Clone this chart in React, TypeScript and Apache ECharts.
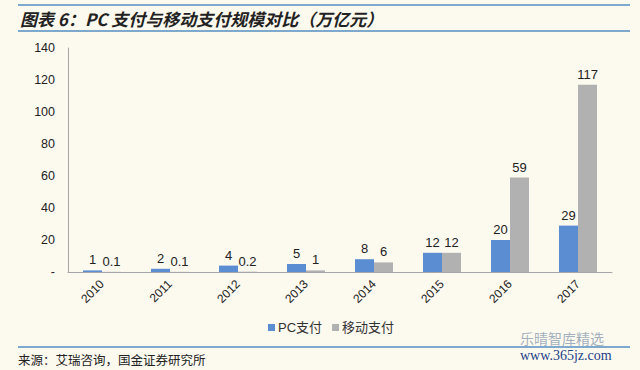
import React, { useEffect, useRef } from "react";
import * as echarts from "echarts";

const categories = ["2010", "2011", "2012", "2013", "2014", "2015", "2016", "2017"];
const pcPay = [1, 2, 4, 5, 8, 12, 20, 29];
const mobilePay = [0.1, 0.1, 0.2, 1, 6, 12, 59, 117];
const seriesNames = ["PC支付", "移动支付"];
const titleText = "图表 6：PC 支付与移动支付规模对比（万亿元）";
const sourceText = "来源：艾瑞咨询，国金证券研究所";

export default function App() {
  const ref = useRef<HTMLDivElement>(null);
  useEffect(() => {
    if (!ref.current) return;
    document.body.style.margin = "0";
    const chart = echarts.init(ref.current, null, { renderer: "svg" });
    const labelStyle = {
      show: true,
      position: "top",
      distance: 4,
      color: "#222",
      fontSize: 13,
      fontFamily: "Liberation Sans, Arial, sans-serif",
    };
    chart.setOption({
      animation: false,
      backgroundColor: "#fcf9ef",
      grid: { left: 68, right: 28, top: 48, bottom: 98 },
      legend: {
        data: seriesNames,
        left: 263,
        top: 316,
        itemWidth: 7,
        itemHeight: 7,
        itemGap: 10,
        icon: "rect",
        textStyle: { fontSize: 13, color: "#333", fontFamily: "Liberation Sans, Noto Sans CJK SC, sans-serif", padding: [0, 0, 0, -2] },
      },
      xAxis: {
        type: "category",
        data: categories,
        axisLine: { lineStyle: { color: "#a6a6a6", width: 1 } },
        axisTick: { show: false },
        axisLabel: {
          rotate: 45,
          color: "#222",
          fontSize: 12,
          margin: 10,
          fontFamily: "Liberation Sans, Arial, sans-serif",
        },
      },
      yAxis: {
        type: "value",
        min: 0,
        max: 140,
        interval: 20,
        axisLine: { show: true, lineStyle: { color: "#a6a6a6", width: 1 } },
        axisTick: { show: false },
        splitLine: { show: false },
        axisLabel: {
          color: "#222",
          fontSize: 12.5,
          margin: 13,
          fontFamily: "Liberation Sans, Arial, sans-serif",
          formatter: (v: number) => (v === 0 ? "-" : String(v)),
        },
      },
      series: [
        {
          name: seriesNames[0],
          type: "bar",
          data: pcPay,
          barWidth: 19,
          barGap: "0%",
          itemStyle: { color: "#5b8dd3" },
          label: labelStyle,
        },
        {
          name: seriesNames[1],
          type: "bar",
          data: mobilePay,
          barWidth: 19,
          itemStyle: { color: "#b1b1b1" },
          label: labelStyle,
        },
      ],
      graphic: [
        { type: "line", shape: { x1: 18, y1: 5, x2: 630, y2: 5 }, style: { stroke: "#7ea9cc", lineWidth: 2 } },
        { type: "line", shape: { x1: 18, y1: 31, x2: 630, y2: 31 }, style: { stroke: "#7ea9cc", lineWidth: 2 } },
        {
          type: "text",
          x: 20,
          y: 18,
          style: {
            text: titleText,
            fill: "#222",
            fontSize: 17,
            fontWeight: "bold",
            fontStyle: "italic",
            fontFamily: "Noto Sans CJK SC, sans-serif",
            verticalAlign: "middle",
          },
        },
        { type: "line", shape: { x1: 18, y1: 347, x2: 630, y2: 347 }, style: { stroke: "#7ea9cc", lineWidth: 2 } },
        {
          type: "text",
          x: 18,
          y: 359,
          style: {
            text: sourceText,
            fill: "#222",
            fontSize: 12.5,
            fontFamily: "Noto Sans CJK SC, sans-serif",
            verticalAlign: "middle",
          },
        },
        {
          type: "text",
          x: 520,
          y: 338,
          style: {
            text: "乐晴智库精选",
            fill: "#8a9bb0",
            fontSize: 14,
            fontFamily: "Noto Sans CJK SC, sans-serif",
            verticalAlign: "middle",
            opacity: 0.8,
          },
        },
        {
          type: "text",
          x: 520,
          y: 355,
          style: {
            text: "www.365jz.com",
            fill: "#1c3f86",
            fontSize: 14,
            fontFamily: "Liberation Serif, DejaVu Serif, serif",
            verticalAlign: "middle",
          },
        },
      ],
    });
    return () => chart.dispose();
  }, []);
  return <div ref={ref} style={{ width: 640, height: 370 }} />;
}
